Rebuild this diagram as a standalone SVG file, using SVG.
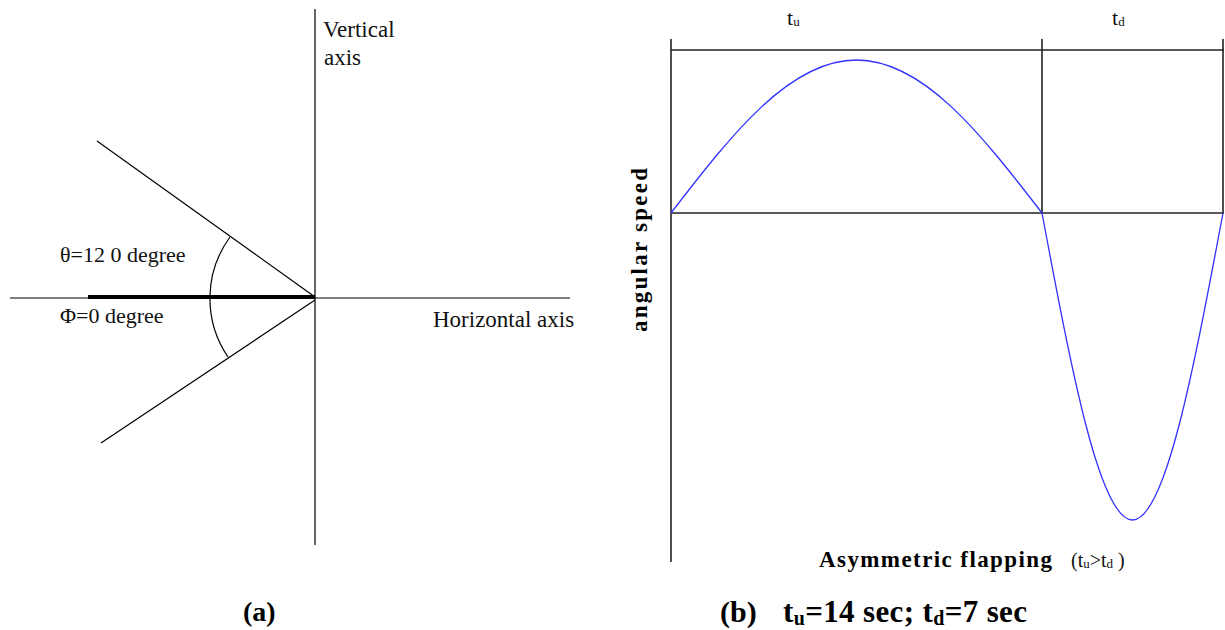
<svg xmlns="http://www.w3.org/2000/svg" width="1225" height="630" viewBox="0 0 1225 630">
<style>
.ax{stroke:#000;stroke-width:1.2;fill:none}
.ax2{stroke:#222;stroke-width:1.6;fill:none}
.t{font-family:"Liberation Serif","Times New Roman",serif;fill:#111}
.b{font-family:"Liberation Serif","Times New Roman",serif;font-weight:bold;fill:#000}
.curve{stroke:#3030ff;stroke-width:1.3;fill:none}
</style>
<rect width="1225" height="630" fill="#fff"/>
<g id="panel-a">
  <g id="axes-a">
    <line class="ax" x1="315" y1="9" x2="315" y2="545"/>
    <line class="ax" x1="10" y1="298" x2="570" y2="298"/>
    <line x1="88" y1="297" x2="315" y2="297" stroke="#000" stroke-width="4"/>
    <line class="ax" x1="97" y1="141" x2="315" y2="297"/>
    <line class="ax" x1="315" y1="300" x2="101" y2="443"/>
    <path class="ax" d="M230,237 A104,104 0 0 0 228,357"/>
  </g>
  <g id="labels-a">
    <text class="t" x="323" y="37" font-size="23">Vertical</text>
    <text class="t" x="324" y="65" font-size="23">axis</text>
    <text class="t" x="60" y="262" font-size="22">θ=12 0 degree</text>
    <text class="t" x="60" y="323" font-size="22">Φ=0 degree</text>
    <text class="t" x="433" y="327" font-size="23">Horizontal axis</text>
    <text class="b" x="243" y="621" font-size="28">(a)</text>
  </g>
</g>
<g id="panel-b">
  <g id="frame-b">
    <line class="ax2" x1="671" y1="39" x2="671" y2="562"/>
    <line class="ax2" x1="671" y1="50" x2="1224" y2="50"/>
    <line class="ax2" x1="1042" y1="39" x2="1042" y2="213"/>
    <line class="ax2" x1="1223" y1="39" x2="1223" y2="213"/>
    <line class="ax2" x1="671" y1="213" x2="1224" y2="213"/>
  </g>
  <g id="curve-b">
    <path class="curve" d="M671,213 C731.5,134.6 789.4,60 856.5,60 C923.6,60 981.5,134.6 1042,213 C1071.5,370.3 1099.7,520 1132.5,520 C1165.3,520 1193.5,370.3 1223,213"/>
  </g>
  <g id="labels-b">
    <text class="t" x="787" y="25" font-size="22">t<tspan font-size="13" dy="1">u</tspan></text>
    <text class="t" x="1112" y="25" font-size="22">t<tspan font-size="13" dy="1">d</tspan></text>
    <text class="b" transform="translate(647,250) rotate(-90)" text-anchor="middle" font-size="23" textLength="164" lengthAdjust="spacing">angular speed</text>
    <text class="b" x="819" y="567" font-size="23" textLength="233" lengthAdjust="spacing">Asymmetric flapping</text>
    <text class="t" x="1071" y="567" font-size="20">(t<tspan font-size="13" dy="1">u</tspan><tspan dy="-1">&gt;t</tspan><tspan font-size="13" dy="1">d</tspan><tspan dy="-1"> )</tspan></text>
    <text class="b" x="720" y="622" font-size="30">(b)</text>
    <text class="b" x="783" y="622" font-size="31" textLength="244" lengthAdjust="spacing">t<tspan font-size="20" dy="3">u</tspan><tspan dy="-3">=14 sec; t</tspan><tspan font-size="20" dy="3">d</tspan><tspan dy="-3">=7 sec</tspan></text>
  </g>
</g>
</svg>
